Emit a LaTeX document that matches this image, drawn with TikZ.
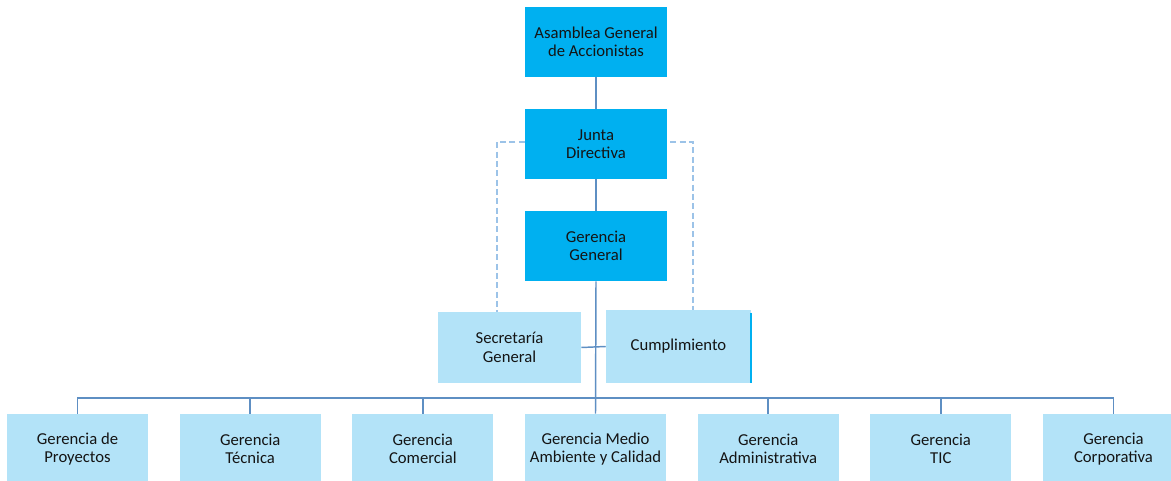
\documentclass[tikz,border=0pt]{standalone}
\usepackage{fontspec}
\setmainfont{Carlito}
\usetikzlibrary{calc}
\definecolor{topblue}{HTML}{00B0F0}
\definecolor{lightbox}{HTML}{B3E3F8}
\definecolor{linecol}{HTML}{5E8FC3}
\definecolor{dashcol}{HTML}{9CC3E8}
\definecolor{txt}{HTML}{141414}
\tikzset{
  topbox/.style={fill=topblue, draw=none, minimum width=106.5pt, minimum height=52.5pt, inner sep=0pt, align=center, text=txt, font=\fontsize{12.5}{13.8}\selectfont},
  subbox/.style={fill=lightbox, draw=none, minimum width=105.75pt, minimum height=52.5pt, inner sep=0pt, align=center, text=txt, font=\fontsize{12.5}{13.8}\selectfont},
  conn/.style={draw=linecol, line width=1.1pt},
  dconn/.style={draw=dashcol, line width=0.9pt, dash pattern=on 4.5pt off 2.5pt}
}
\begin{document}
\begin{tikzpicture}[x=0.75pt,y=-0.75pt]
\useasboundingbox (0,0) rectangle (1171,481);
\clip (0,0) rectangle (1171,481);
\node[topbox] (asam) at (596,42) {Asamblea General\\de Accionistas};
\node[topbox] (junta) at (596,144) {Junta\\Directiva};
\node[topbox] (gg) at (596,246) {Gerencia\\General};
\node[subbox, minimum width=107.25pt, minimum height=53.25pt] (sec) at (509.5,347.5) {Secretaría\\General};
\node[subbox, minimum width=108.75pt, minimum height=54.75pt] (cump) at (678.5,346.5) {Cumplimiento};
\draw[topblue, line width=1.6pt] ($(cump.north east)+(0,3)$) -- (cump.south east);
\node[subbox] (b1) at (77.5,449) {Gerencia de\\Proyectos};
\node[subbox] (b2) at (250.2,449) {Gerencia\\Técnica};
\node[subbox] (b3) at (422.8,449) {Gerencia\\Comercial};
\node[subbox] (b4) at (595.5,449) {Gerencia Medio\\Ambiente y Calidad};
\node[subbox] (b5) at (768.2,449) {Gerencia\\Administrativa};
\node[subbox] (b6) at (940.8,449) {Gerencia\\TIC};
\node[subbox] (b7) at (1113.5,449) {Gerencia\\Corporativa};
\coordinate (bus) at (596,398);
\draw[conn] (asam.south) -- (junta.north);
\draw[conn] (junta.south) -- (gg.north);
\draw[conn] (gg.south) -- (b4.north);
\draw[conn] (sec.east) -- (cump.west);
\draw[conn] (b1.north) -- (b1.north |- bus) -- (b7.north |- bus) -- (b7.north);
\foreach \b in {b2,b3,b5,b6} \draw[conn] (\b.north) -- (\b.north |- bus);
\draw[dconn] ($(junta.west)+(0,-2)$) -| ($(sec.north)+(-12.5,0)$);
\draw[dconn] ($(junta.east)+(3,-2)$) -| ($(cump.north)+(14.5,0)$);
\end{tikzpicture}
\end{document}
